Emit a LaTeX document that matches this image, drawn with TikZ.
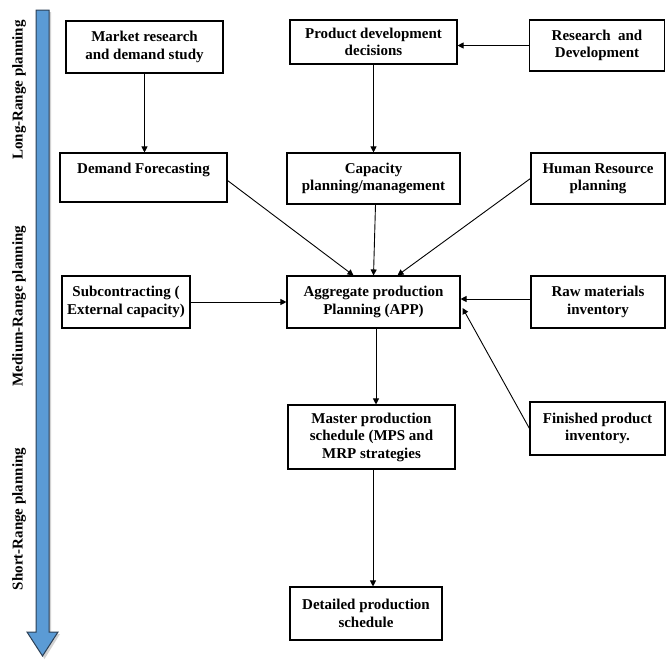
\documentclass[tikz,border=0pt]{standalone}
\usepackage{fontspec}
\setmainfont{Liberation Serif}
\usetikzlibrary{arrows.meta,calc}
\definecolor{arrowblue}{HTML}{5B9BD5}
\definecolor{arrowedge}{HTML}{2B3F55}
\tikzset{
  box/.style={draw, line width=1.1pt, rectangle, align=center, inner sep=0pt,
    font=\fontsize{15}{17.5}\selectfont\bfseries},
  conn/.style={line width=0.9pt, -{Triangle[length=6pt,width=6pt]}},
  phase/.style={rotate=90, font=\fontsize{15}{17.5}\selectfont\bfseries, inner sep=0pt}
}
\begin{document}
\begin{tikzpicture}[x=1pt,y=-1pt]
\path[use as bounding box] (0,0) rectangle (666,659);
% timeline arrow
\fill[gray!35] (38,12) -- (51,12) -- (51,634) -- (60,634) -- (44.5,659) -- (29,634) -- (38,634) -- cycle;
\filldraw[fill=arrowblue, draw=arrowedge, line width=1pt]
  (36,10) -- (49,10) -- (49,632) -- (58,632) -- (42.5,656) -- (27,632) -- (36,632) -- cycle;
\node[phase] (lr) at (19,90) {Long-Range planning};
\node[phase] (medr) at (19,306) {Medium-Range planning};
\node[phase] (sr) at (19,519) {Short-Range planning};
% boxes
\node[box, minimum width=157pt, minimum height=52pt] (mr) at (144.5,47) {Market research\\and demand study};
\node[box, minimum width=167pt, minimum height=44pt] (pd) at (373.5,42) {Product development\\decisions};
\node[box, minimum width=135pt, minimum height=51pt] (rd) at (597,45.5) {Research\ \ and\\Development};
\node[box, minimum width=167pt, minimum height=49pt] (df) at (143.5,177.5) {Demand Forecasting\\\mbox{}};
\node[box, minimum width=173pt, minimum height=51pt] (cp) at (373.5,178.5) {Capacity\\planning/management};
\node[box, minimum width=134pt, minimum height=51pt] (hr) at (598,178.5) {Human Resource\\planning};
\node[box, minimum width=128pt, minimum height=52pt] (sc) at (126,302) {Subcontracting (\\External capacity)};
\node[box, minimum width=173pt, minimum height=52pt] (app) at (373.5,302) {Aggregate production\\Planning (APP)};
\node[box, minimum width=134pt, minimum height=52pt] (rm) at (598,302) {Raw materials\\inventory};
\node[box, minimum width=167pt, minimum height=64pt] (mps) at (371.5,437) {Master production\\schedule (MPS and\\MRP strategies};
\node[box, minimum width=135pt, minimum height=53pt] (fp) at (597.5,428.5) {Finished product\\inventory.};
\node[box, minimum width=152pt, minimum height=53pt] (dp) at (366,613.5) {Detailed production\\schedule};
% connectors
\draw[conn] (mr.south) -- (mr.south |- df.north);
\draw[conn] (pd.south) -- (pd.south |- cp.north);
\draw[conn] (rd.west) -- (rd.west -| pd.east);
\draw[conn] ($(df.east)+(0,3)$) -- ($(app.north)+(-20,0)$);
\draw[conn] ($(cp.south)+(2,0)$) -- (app.north);
\draw[conn] (hr.west) -- ($(app.north)+(24,0)$);
\draw[conn] (sc.east) -- (sc.east -| app.west);
\draw[conn] ($(rm.west)+(0,-3)$) -- ($(app.east)+(0,-3)$);
\draw[conn] (fp.west) -- ($(app.east)+(2,6)$);
\draw[conn] ($(app.south)+(2.5,0)$) -- ($(app.south |- mps.north)+(2.5,0)$);
\draw[conn] ($(mps.south)+(1.5,0)$) -- ($(mps.south |- dp.north)+(1.5,0)$);
\end{tikzpicture}
\end{document}
